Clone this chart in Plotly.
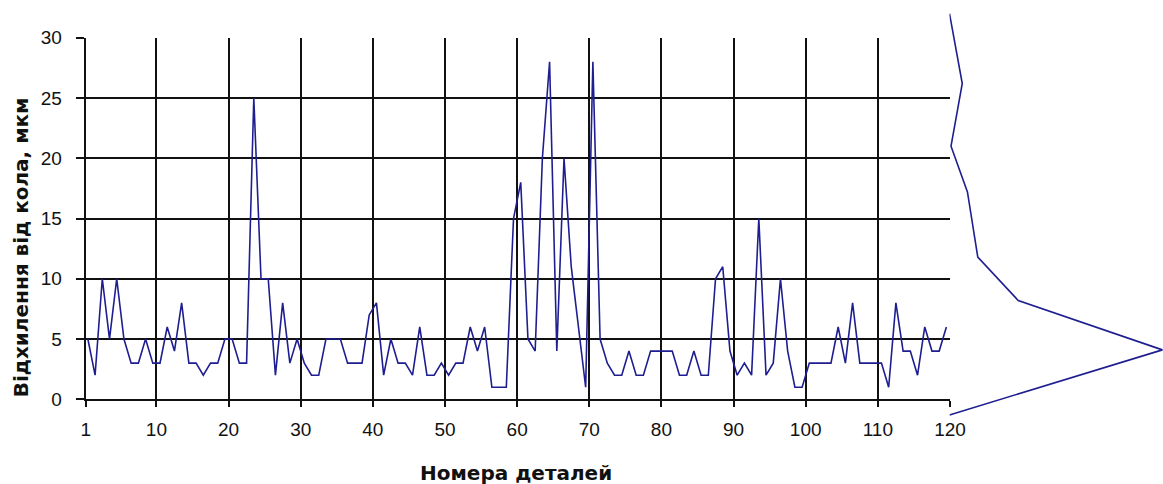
import plotly.graph_objects as go

# ---- data -------------------------------------------------------------
part_no = list(range(1, 121))

deviation_um = [
    5, 2, 10, 5, 10, 5, 3, 3, 5, 3,
    3, 6, 4, 8, 3, 3, 2, 3, 3, 5,
    5, 3, 3, 25, 10, 10, 2, 8, 3, 5,
    3, 2, 2, 5, 5, 5, 3, 3, 3, 7,
    8, 2, 5, 3, 3, 2, 6, 2, 2, 3,
    2, 3, 3, 6, 4, 6, 1, 1, 1, 15,
    18, 5, 4, 20, 28, 4, 20, 11, 6, 1,
    28, 5, 3, 2, 2, 4, 2, 2, 4, 4,
    4, 4, 2, 2, 4, 2, 2, 10, 11, 4,
    2, 3, 2, 15, 2, 3, 10, 4, 1, 1,
    3, 3, 3, 3, 6, 3, 8, 3, 3, 3,
    3, 1, 8, 4, 4, 2, 6, 4, 4, 6,
]

x_tick_labels = ["1", "10", "20", "30", "40", "50", "60",
                 "70", "80", "90", "100", "110", "120"]
y_tick_values = [0, 5, 10, 15, 20, 25, 30]

# frequency polygon of the deviations, drawn sideways on the right
freq_levels = [32.0, 26.2, 21.0, 17.2, 11.8, 8.2, 4.1, -1.3]
freq_counts = [0.0, 4.2, 0.5, 5.9, 9.3, 22.6, 70.0, 0.0]

# ---- geometry ---------------------------------------------------------
W, H = 1163, 484
PLOT_L, PLOT_R = 85.7, 950.0
PLOT_T, PLOT_B = 37.7, 399.3
X_MIN, X_MAX = 0.7, 120.5
Y_MIN, Y_MAX = 0, 30

px_per_unit = (PLOT_B - PLOT_T) / (Y_MAX - Y_MIN)
SIDE_L, SIDE_T, SIDE_B = 949.5, 0.0, 430.0
side_y_range = [(PLOT_B - SIDE_B) / px_per_unit, (PLOT_B - SIDE_T) / px_per_unit]

# category boundaries carry the tick marks / grid lines
x_tick_pos = [X_MIN] + [v + 0.5 for v in range(10, 121, 10)]

INK = "#111111"
LINE_BLUE = "#1e1e90"
TICK_FONT = dict(family="Liberation Sans, Arial, sans-serif", size=19, color=INK)
TITLE_FONT = dict(family="DejaVu Sans, sans-serif", size=20, color=INK, weight="bold")

fig = go.Figure()

fig.add_trace(go.Scatter(
    x=part_no, y=deviation_um, mode="lines",
    line=dict(color=LINE_BLUE, width=1.6),
    xaxis="x", yaxis="y", showlegend=False, hoverinfo="skip",
))

fig.add_trace(go.Scatter(
    x=freq_counts, y=freq_levels, mode="lines",
    line=dict(color=LINE_BLUE, width=1.6),
    xaxis="x2", yaxis="y2", showlegend=False, hoverinfo="skip",
))

fig.update_layout(
    width=W, height=H,
    margin=dict(l=0, r=0, t=0, b=0, autoexpand=False),
    paper_bgcolor="white", plot_bgcolor="rgba(0,0,0,0)",
    xaxis=dict(
        domain=[PLOT_L / W, PLOT_R / W], anchor="y", automargin=False,
        range=[X_MIN, X_MAX],
        tickmode="array", tickvals=x_tick_pos, ticktext=x_tick_labels,
        ticks="outside", ticklen=6, tickwidth=2, tickcolor=INK,
        showline=True, linecolor=INK, linewidth=2,
        showgrid=True, gridcolor=INK, gridwidth=2,
        zeroline=False, tickfont=TICK_FONT, ticklabelstandoff=6,
    ),
    yaxis=dict(
        domain=[1 - PLOT_B / H, 1 - PLOT_T / H], anchor="x", automargin=False,
        range=[Y_MIN, Y_MAX],
        tickmode="array", tickvals=y_tick_values,
        ticks="outside", ticklen=8, tickwidth=2, tickcolor=INK,
        showline=True, linecolor=INK, linewidth=2,
        showgrid=False, zeroline=False, tickfont=TICK_FONT,
        ticklabelstandoff=10,
        minor=dict(tickmode="array", tickvals=y_tick_values[1:-1],
                   showgrid=True, gridcolor=INK, gridwidth=2, ticks=""),
    ),
    xaxis2=dict(
        domain=[SIDE_L / W, 1.0], anchor="y2", automargin=False,
        range=[0, 70.2], visible=False, fixedrange=True,
    ),
    yaxis2=dict(
        domain=[1 - SIDE_B / H, 1 - SIDE_T / H], anchor="x2", automargin=False,
        range=side_y_range, visible=False, fixedrange=True,
    ),
    annotations=[
        dict(text="Номера деталей", x=516 / W, y=1 - 473 / H,
             xref="paper", yref="paper", showarrow=False,
             xanchor="center", yanchor="middle", font=TITLE_FONT),
        dict(text="Відхилення від кола, мкм", x=21.3 / W, y=1 - 247 / H,
             xref="paper", yref="paper", showarrow=False, textangle=-90,
             xanchor="center", yanchor="middle", font=TITLE_FONT),
    ],
)

fig.write_html("out.html")
